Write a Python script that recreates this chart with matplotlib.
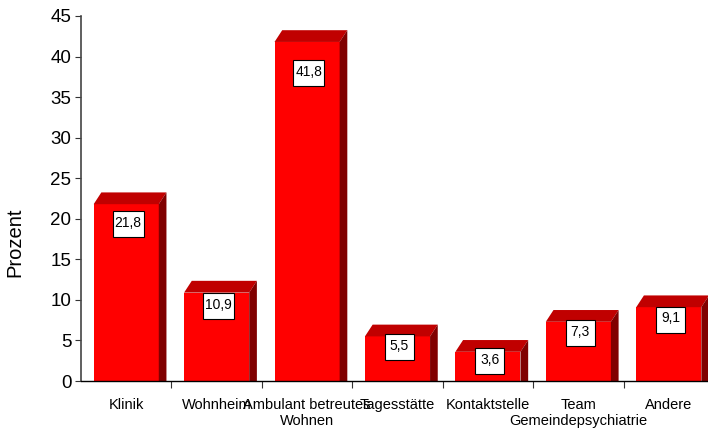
import numpy as np
import matplotlib.pyplot as plt
from matplotlib.patches import Polygon, Rectangle
from matplotlib.transforms import ScaledTranslation

plt.rcParams['font.family'] = ['Liberation Sans', 'DejaVu Sans']

categories = ['Klinik', 'Wohnheim', 'Ambulant betreutes\nWohnen', 'Tagesstätte',
              'Kontaktstelle', 'Team\nGemeindepsychiatrie', 'Andere']
values = [21.8, 10.9, 41.8, 5.5, 3.6, 7.3, 9.1]
labels = ['21,8', '10,9', '41,8', '5,5', '3,6', '7,3', '9,1']

fig = plt.figure(figsize=(7.08, 4.29), dpi=100)
ax = fig.add_axes([81 / 708, 48 / 429, 633 / 708, 365 / 429])

x = np.arange(len(categories))
w = 0.72
ddx, ddy = 0.085, 1.45

ax.bar(x, values, width=w, color='#ff0000', zorder=2)
for xi, v, lab in zip(x, values, labels):
    l, r = xi - w / 2, xi + w / 2
    top = Polygon([(l, v), (r, v), (r + ddx, v + ddy), (l + ddx, v + ddy)],
                  closed=True, facecolor='#c00000', edgecolor='none', zorder=2)
    side = Polygon([(r, 0), (r + ddx, 0), (r + ddx, v + ddy), (r, v)],
                   closed=True, facecolor='#800000', edgecolor='none', zorder=2)
    ax.add_patch(top)
    ax.add_patch(side)

    # label box, fixed size in inches around a point below the bar top
    yc = v - (0.9 + 0.07 * v)
    trans = fig.dpi_scale_trans + ScaledTranslation(xi + 0.02, yc, ax.transData)
    bw = 0.31 if len(lab) > 3 else 0.29
    bh = 0.26
    ax.add_patch(Rectangle((-bw / 2, -bh / 2), bw, bh, transform=trans,
                           facecolor='white', edgecolor='black', linewidth=0.8,
                           zorder=3))
    ax.text(0, -0.027, lab, transform=trans, ha='center', va='baseline',
            fontsize=10, zorder=4)

ax.set_xlim(-0.5, len(categories) - 0.5)
ax.set_ylim(0, 45)
ax.set_yticks(np.arange(0, 46, 5))
ax.set_xticks(np.arange(0.5, len(categories) - 1, 1))
ax.set_xticklabels([])
ax.set_xticks(x, minor=True)
ax.set_xticklabels(categories, minor=True, fontsize=10.5)
ax.tick_params(axis='x', which='minor', length=0, pad=12)
ax.tick_params(axis='x', which='major', length=5, direction='out', color='#333333')
ax.tick_params(axis='y', length=4, direction='out', labelsize=13.5, color='#333333', pad=3)
ax.set_ylabel('Prozent', fontsize=14.5)
ax.yaxis.set_label_coords(-0.090, 0.381)

ax.spines['top'].set_visible(False)
ax.spines['right'].set_visible(False)
ax.spines['left'].set_color('#444444')
ax.spines['left'].set_linewidth(1.2)
ax.spines['bottom'].set_color('black')
ax.spines['bottom'].set_linewidth(1.0)

fig.savefig('out.png', dpi=100)
